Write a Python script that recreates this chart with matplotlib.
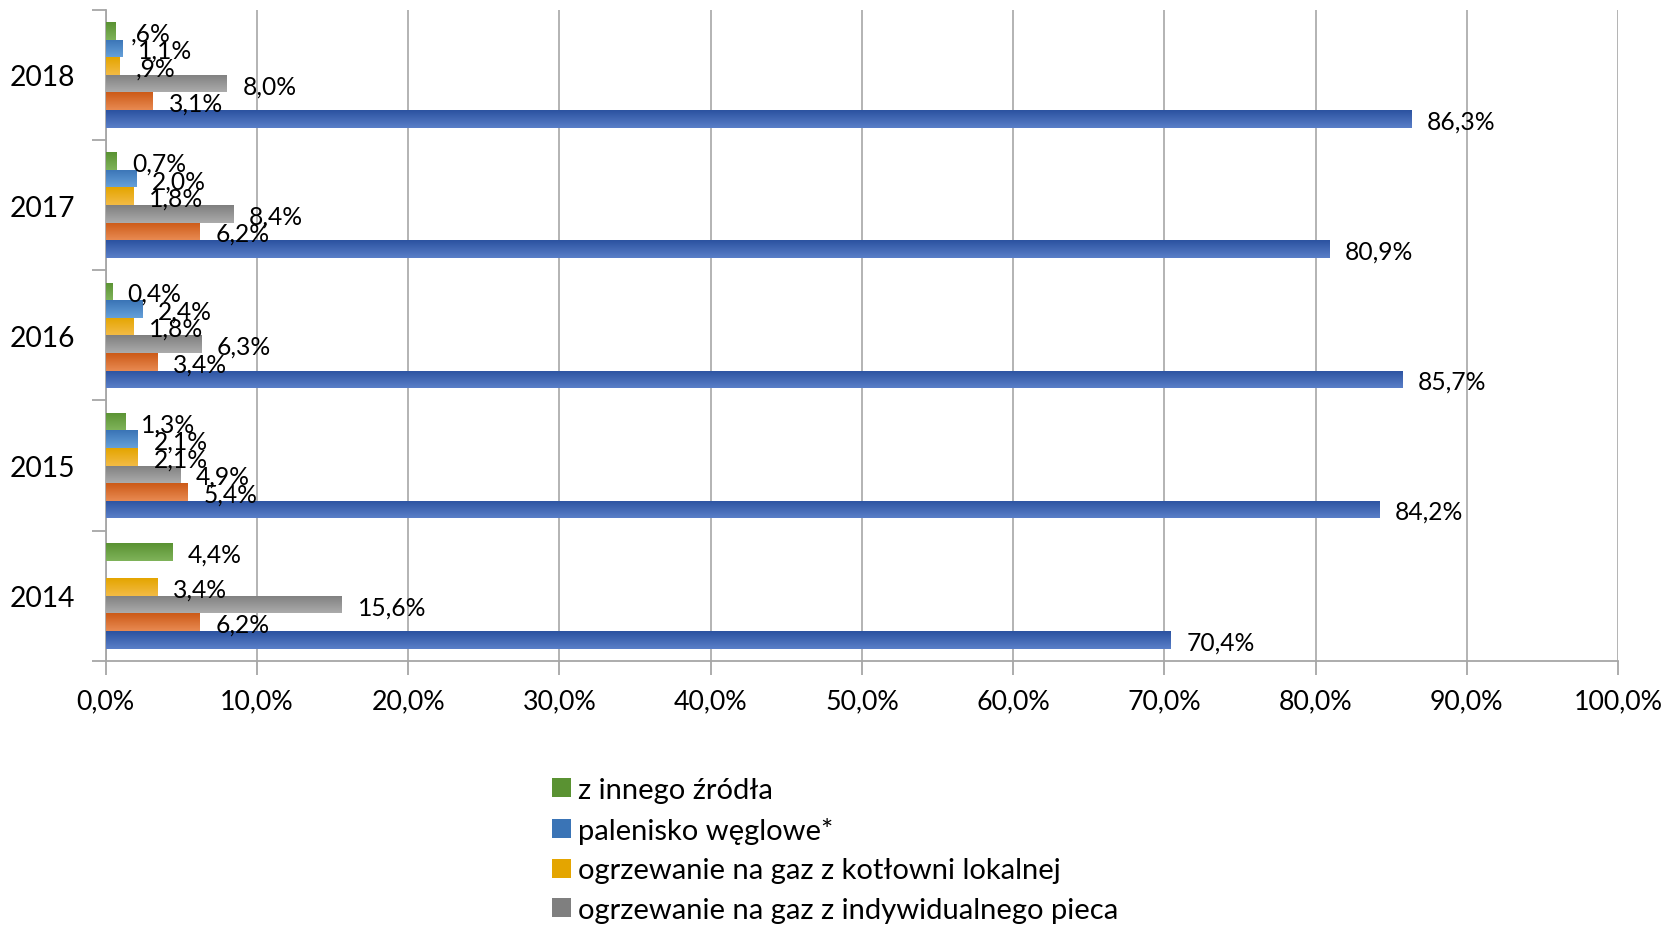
import numpy as np
import matplotlib
matplotlib.use('Agg')
import matplotlib.pyplot as plt
from matplotlib.colors import LinearSegmentedColormap
from matplotlib.patches import Patch

plt.rcParams['font.family'] = ['Lato', 'DejaVu Sans']

# Dane: udział sposobów ogrzewania w latach 2014-2018 (%)
years = ['2014', '2015', '2016', '2017', '2018']
inne_zrodlo = [4.4, 1.3, 0.4, 0.7, 0.6]
palenisko_weglowe = [np.nan, 2.1, 2.4, 2.0, 1.1]
gaz_kotlownia = [3.4, 2.1, 1.8, 1.8, 0.9]
gaz_piec = [15.6, 4.9, 6.3, 8.4, 8.0]
seria_pomaranczowa = [6.2, 5.4, 3.4, 6.2, 3.1]
seria_granatowa = [70.4, 84.2, 85.7, 80.9, 86.3]

legend_labels = ['z innego źródła', 'palenisko węglowe*',
                 'ogrzewanie na gaz z kotłowni lokalnej',
                 'ogrzewanie na gaz z indywidualnego pieca']

# in 2018 values below 1% were written without the leading zero
no_leading_zero = [False, False, False, False, True]

x_ticks = np.arange(0, 101, 10)

# bottom-to-top order inside each year group: (values, light, dark)
series = [
    (seria_granatowa, '#5a7fc8', '#2b52a0'),
    (seria_pomaranczowa, '#e88a52', '#cc5a17'),
    (gaz_piec, '#ababab', '#7f7f7f'),
    (gaz_kotlownia, '#f3bb45', '#e4a500'),
    (palenisko_weglowe, '#65a0d9', '#3a74b6'),
    (inne_zrodlo, '#7fb35a', '#5a9232'),
]

fig = plt.figure(figsize=(16.74, 9.29), dpi=100)
ax = fig.add_axes([0.0631, 0.2874, 0.9035, 0.7011])

bar_h = 0.135
ypos = np.arange(len(years))
grad = np.linspace(0, 1, 64).reshape(-1, 1)


def fmt(v, strip):
    s = '{:.1f}'.format(v).replace('.', ',') + '%'
    if strip and s.startswith('0,'):
        s = s[1:]
    return s


for k, (vals, light, dark) in enumerate(series):
    offs = (k - 2.5) * bar_h
    bars = ax.barh(ypos + offs, vals, height=bar_h, color=dark, zorder=3)
    cmap = LinearSegmentedColormap.from_list('g%d' % k, [light, dark])
    for i, b in enumerate(bars):
        v = vals[i]
        if np.isnan(v):
            continue
        # vertical gradient, lighter on top
        x0, y0 = b.get_x(), b.get_y()
        im = ax.imshow(grad, cmap=cmap, aspect='auto', zorder=3.5,
                       extent=(x0, x0 + b.get_width(), y0 + b.get_height(), y0),
                       interpolation='bilinear')
        im.set_clip_path(b)
        ax.annotate(fmt(v, no_leading_zero[i]), (v, ypos[i] + offs),
                    xytext=(16, -2), textcoords='offset pixels',
                    va='center', ha='left', fontsize=17.7, color='black',
                    zorder=5)

ax.set_xlim(0, 100)
ax.set_ylim(-0.5, len(years) - 0.5)

ax.set_xticks(x_ticks)
ax.set_xticklabels(['{:.1f}'.format(t).replace('.', ',') + '%' for t in x_ticks],
                   fontsize=19.3)
ax.tick_params(axis='x', length=10, width=1.3, color='#a6a6a6', pad=10)
ax.grid(axis='x', color='#b3b3b3', linewidth=1.4, zorder=0)

ax.set_yticks(ypos)
ax.set_yticklabels(years, fontsize=20.3)
ax.set_yticks(np.arange(len(years) + 1) - 0.5, minor=True)
ax.tick_params(axis='y', which='major', length=0, pad=22)
ax.tick_params(axis='y', which='minor', length=10, width=1.3, color='#a6a6a6')

for side in ['top', 'right']:
    ax.spines[side].set_visible(False)
for side in ['left', 'bottom']:
    ax.spines[side].set_color('#a6a6a6')
    ax.spines[side].set_linewidth(1.3)

handles = [Patch(facecolor=series[5][2]), Patch(facecolor=series[4][2]),
           Patch(facecolor=series[3][2]), Patch(facecolor=series[2][2])]
fig.legend(handles, legend_labels, loc='upper left',
           bbox_to_anchor=(0.330, 0.1625), frameon=False, fontsize=21,
           handlelength=0.62, handleheight=0.62, handletextpad=0.25,
           labelspacing=0.47, borderaxespad=0, borderpad=0)

fig.savefig('out.png', dpi=100)
